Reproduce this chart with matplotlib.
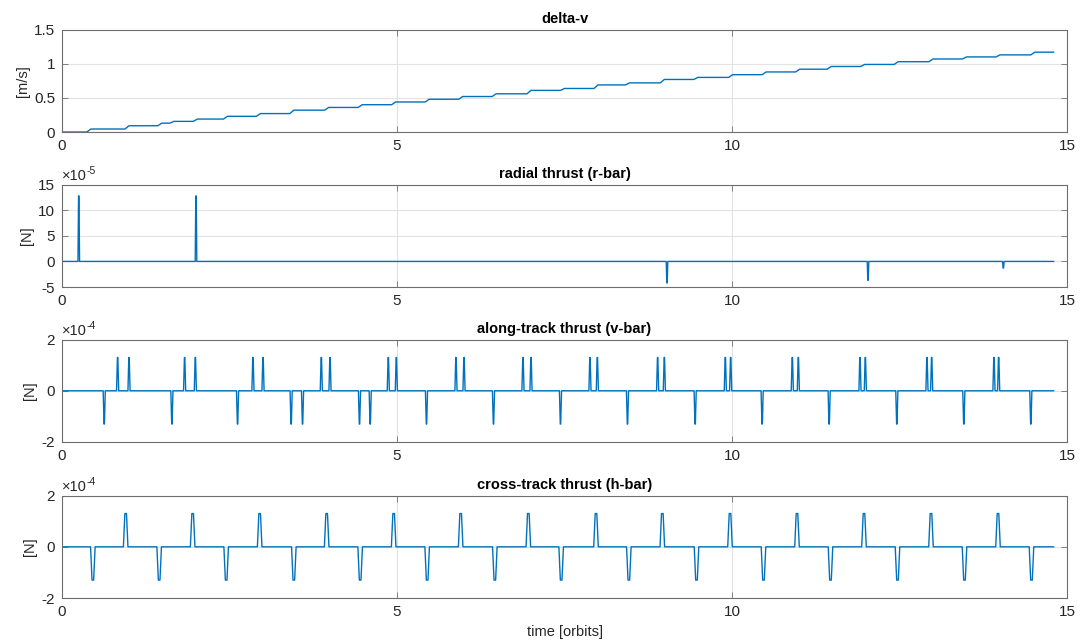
import numpy as np
import matplotlib
matplotlib.use("Agg")
import matplotlib.pyplot as plt
from matplotlib.ticker import FixedLocator, FuncFormatter

plt.rcParams["font.family"] = ["Liberation Sans", "DejaVu Sans"]
plt.rcParams["axes.unicode_minus"] = False

T_END = 14.8

# cumulative delta-v: burn times [orbits] and the total after each burn [m/s]
dv_step_times = [0.40, 0.97, 1.46, 1.64, 1.99, 2.44, 2.93, 3.43, 3.95, 4.45,
                 4.95, 5.45, 5.95, 6.45, 6.97, 7.47, 7.97, 8.44, 8.96, 9.46,
                 9.98, 10.48, 10.98, 11.45, 11.95, 12.45, 12.97, 13.47, 13.97, 14.49]
dv_levels = [0.044, 0.092, 0.13, 0.156, 0.19, 0.23, 0.27, 0.32, 0.36, 0.40,
             0.44, 0.48, 0.52, 0.56, 0.61, 0.638, 0.69, 0.72, 0.77, 0.80,
             0.84, 0.88, 0.92, 0.96, 0.99, 1.03, 1.07, 1.10, 1.13, 1.17]

# radial (r-bar) thrust pulses [N]
radial_times = [0.25, 2.00, 9.03, 12.03, 14.05]
radial_values = [12.8e-5, 12.8e-5, -4.2e-5, -3.7e-5, -1.3e-5]

# along-track (v-bar) thrust pulses [N]
along_pos_times = [0.83, 1.00, 1.83, 1.99, 2.85, 3.00, 3.87, 4.00, 4.87, 4.99,
                   5.88, 6.00, 6.88, 7.00, 7.88, 7.99, 8.89, 8.99, 9.90, 9.98,
                   10.90, 10.99, 11.91, 11.99, 12.91, 12.98, 13.91, 13.98]
along_neg_times = [0.63, 1.64, 2.62, 3.42, 3.59, 4.44, 4.60, 5.44, 6.44, 7.44,
                   8.44, 9.45, 10.45, 11.45, 12.46, 13.46, 14.46]
along_amp = 1.3e-4

# cross-track (h-bar) thrust pulses [N]
cross_neg_times = [0.46, 1.45, 2.45, 3.46, 4.45, 5.45, 6.46, 7.45,
                   8.46, 9.47, 10.47, 11.47, 12.47, 13.47, 14.47]
cross_pos_times = [0.95, 1.95, 2.95, 3.95, 4.95, 5.95, 6.96,
                   7.97, 8.96, 9.97, 10.97, 11.97, 12.97, 13.97]
cross_amp = 1.3e-4

LINE = "#0072BD"
GRID = "#e3e3e3"
EDGE = "#6e6e6e"
TXT = "#262626"


def staircase(times, levels, ramp=0.03):
    t, y = [0.0], [0.0]
    prev = 0.0
    for ti, lv in zip(times, levels):
        t += [ti - ramp, ti + ramp]
        y += [prev, lv]
        prev = lv
    t.append(T_END)
    y.append(prev)
    return np.array(t), np.array(y)


def pulse_train(times, values, half_base, half_top):
    order = np.argsort(times)
    t, y = [0.0], [0.0]
    for i in order:
        ti, v = times[i], values[i]
        t += [ti - half_base, ti - half_top, ti + half_top, ti + half_base]
        y += [0.0, v, v, 0.0]
    t.append(T_END)
    y.append(0.0)
    return np.array(t), np.array(y)


fig = plt.figure(figsize=(10.88, 6.44), dpi=100)
left, width, height = 0.057, 0.9237, 0.159
bottoms = [0.795, 0.5543, 0.3137, 0.0714]
axes = [fig.add_axes([left, b, width, height]) for b in bottoms]


def style(ax, title, ylabel, yticks, ylim, order=0):
    ax.set_xlim(0, 15)
    ax.set_ylim(*ylim)
    ax.xaxis.set_major_locator(FixedLocator([0, 5, 10, 15]))
    ax.yaxis.set_major_locator(FixedLocator(yticks))
    scale = 10.0 ** order
    ax.yaxis.set_major_formatter(
        FuncFormatter(lambda v, p: f"{round(v / scale, 6):g}"))
    if order:
        base = ax.text(0.0, 1.012, "\u00d710", transform=ax.transAxes,
                       fontsize=10.5, color=TXT, ha="left", va="bottom")
        ax.annotate(f"{order}", xy=(1.0, 0.55), xycoords=base,
                    fontsize=7.5, color=TXT, ha="left", va="bottom")
    ax.grid(True, color=GRID, linewidth=0.8)
    ax.set_axisbelow(True)
    ax.tick_params(direction="in", top=True, right=True, length=4,
                   width=0.6, color=EDGE, labelsize=11, labelcolor=TXT, pad=5)
    for s in ax.spines.values():
        s.set_color(EDGE)
        s.set_linewidth(0.8)
    ax.set_title(title, fontsize=10.5, fontweight="bold", color="black", pad=5)
    ax.set_ylabel(ylabel, fontsize=10.5, color=TXT, labelpad=3)


# delta-v
t, y = staircase(dv_step_times, dv_levels)
axes[0].plot(t, y, color=LINE, linewidth=1.0)
style(axes[0], "delta-v", "[m/s]", [0, 0.5, 1, 1.5], (0, 1.5))

# radial thrust
t, y = pulse_train(radial_times, radial_values, 0.012, 0.003)
axes[1].plot(t, y, color=LINE, linewidth=1.0)
style(axes[1], "radial thrust (r-bar)", "[N]",
      [-5e-5, 0, 5e-5, 10e-5, 15e-5], (-5e-5, 15e-5), order=-5)

# along-track thrust
a_times = along_pos_times + along_neg_times
a_vals = [along_amp] * len(along_pos_times) + [-along_amp] * len(along_neg_times)
t, y = pulse_train(a_times, a_vals, 0.016, 0.003)
axes[2].plot(t, y, color=LINE, linewidth=1.0)
style(axes[2], "along-track thrust (v-bar)", "[N]",
      [-2e-4, 0, 2e-4], (-2e-4, 2e-4), order=-4)

# cross-track thrust
c_times = cross_pos_times + cross_neg_times
c_vals = [cross_amp] * len(cross_pos_times) + [-cross_amp] * len(cross_neg_times)
t, y = pulse_train(c_times, c_vals, 0.034, 0.012)
axes[3].plot(t, y, color=LINE, linewidth=1.0)
style(axes[3], "cross-track thrust (h-bar)", "[N]",
      [-2e-4, 0, 2e-4], (-2e-4, 2e-4), order=-4)
axes[3].set_xlabel("time [orbits]", fontsize=10.5, color=TXT, labelpad=4)

fig.savefig("out.png", dpi=100)
